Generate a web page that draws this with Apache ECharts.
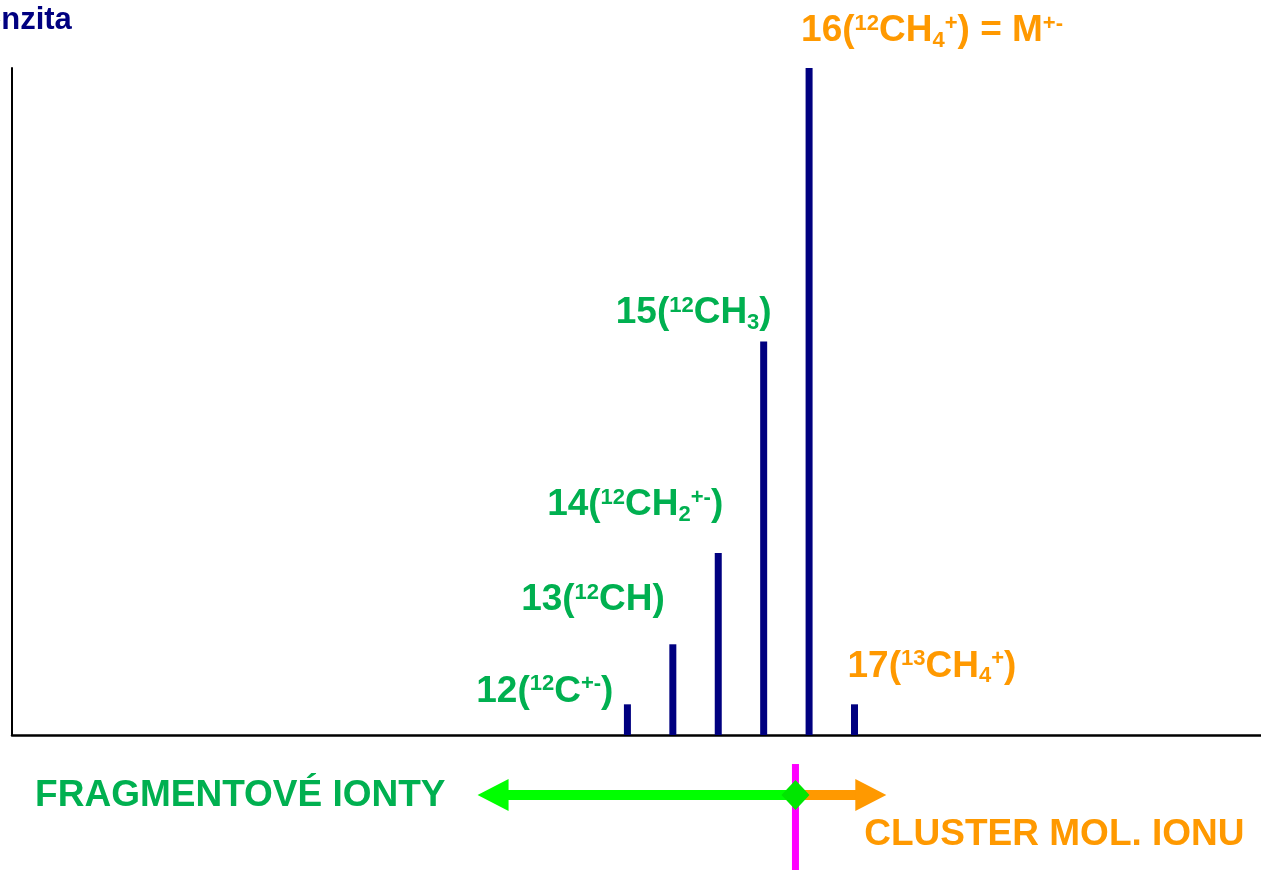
<!DOCTYPE html>
<html><head><meta charset="utf-8">
<script src="https://cdn.jsdelivr.net/npm/echarts@6/dist/echarts.min.js"></script>
<style>html,body{margin:0;padding:0;background:#fff}#c{width:1261px;height:870px}</style>
</head><body><div id="c"></div>
<script>
// ---- data ----
const mz = [12, 13, 14, 15, 16, 17];
const intensity = [4.6, 13.6, 27.3, 59, 100, 4.6];
const labelTexts = [
  '{m|12(}{p|12}{m|C}{p|+-}{m|)}',
  '{m|13(}{p|12}{m|CH)}',
  '{m|14(}{p|12}{m|CH}{b|2}{p|+-}{m|)}',
  '{m|15(}{p|12}{m|CH}{b|3}{m|)}',
  '{m|16(}{p|12}{m|CH}{b|4}{p|+}{m|) = M}{p|+-}',
  '{m|17(}{p|13}{m|CH}{b|4}{p|+}{m|)}'
];
const labelGroup = ['frag', 'frag', 'frag', 'frag', 'cluster', 'cluster'];
const fragmentRange = [8.7, 15.7];
const clusterRange = [15.7, 17.7];
const arrowLevel = -9;
const fragmentTitle = 'FRAGMENTOVÉ IONTY';
const clusterTitle = 'CLUSTER MOL. IONU';
const yName = 'Intenzita';

// ---- styles ----
const FONT = '"Liberation Sans", Arial, sans-serif';
const colors = { frag: '#00B050', cluster: '#FF9900' };
const labelLayout = [
  { align: 'right', off: [-14, 8] },
  { align: 'right', off: [-8, -23] },
  { align: 'right', off: [5, -27] },
  { align: 'right', off: [8, -8] },
  { align: 'left', off: [-8, -16] },
  { align: 'left', off: [-7, -17] }
];
function richFor(color) {
  return {
    m: { fontSize: 37, lineHeight: 42, fontWeight: 'bold', fontFamily: FONT, color: color, verticalAlign: 'middle' },
    p: { fontSize: 22, lineHeight: 22, fontWeight: 'bold', fontFamily: FONT, color: color, verticalAlign: 'top', padding: [3, 0, 0, 0] },
    b: { fontSize: 22, lineHeight: 20, fontWeight: 'bold', fontFamily: FONT, color: color, verticalAlign: 'bottom' }
  };
}

const chart = echarts.init(document.getElementById('c'), null, { renderer: 'canvas' });
const option = {
  animation: false,
  backgroundColor: '#ffffff',
  grid: { left: 12, right: 0, top: 68, bottom: 135, containLabel: false, outerBoundsMode: 'none' },
  xAxis: {
    type: 'value', min: -1.55, max: 25.95,
    axisLine: { show: true, onZero: false, lineStyle: { color: '#000', width: 2.5 } },
    axisTick: { show: false }, axisLabel: { show: false }, splitLine: { show: false }
  },
  yAxis: {
    type: 'value', min: 0, max: 100,
    name: yName, nameLocation: 'end', nameGap: 48,
    nameTextStyle: { color: '#000080', fontSize: 31, fontWeight: 'bold', fontFamily: FONT, align: 'center', verticalAlign: 'middle', padding: [0, 6, 0, 0] },
    axisLine: { show: true, onZero: false, lineStyle: { color: '#000', width: 2 } },
    axisTick: { show: false }, axisLabel: { show: false }, splitLine: { show: false }
  },
  series: [{
    type: 'bar',
    barWidth: 7,
    itemStyle: { color: '#000080' },
    data: mz.map((x, i) => ({
      value: [x, intensity[i]],
      label: {
        show: true,
        position: 'top',
        distance: 0,
        align: labelLayout[i].align,
        verticalAlign: 'bottom',
        offset: labelLayout[i].off,
        formatter: labelTexts[i],
        rich: richFor(colors[labelGroup[i]])
      }
    }))
  }]
};
chart.setOption(option);

function drawAnnotations() {
  const p = v => chart.convertToPixel({ gridIndex: 0 }, v);
  const [gx0, gy] = p([fragmentRange[0], arrowLevel]);
  const [mx] = p([fragmentRange[1], arrowLevel]);
  const [ox] = p([clusterRange[1], arrowLevel]);
  const H = chart.getHeight();
  const headLen = 31, headHalf = 16, lw = 10, dia = 15;
  const txtFont = 'bold 37px ' + FONT;
  chart.setOption({
    graphic: [
      { type: 'line', shape: { x1: mx, y1: gy - 31, x2: mx, y2: H }, style: { stroke: '#FF00FF', lineWidth: 7 }, z: 10 },
      { type: 'line', shape: { x1: gx0 + headLen - 2, y1: gy, x2: mx, y2: gy }, style: { stroke: '#00FF00', lineWidth: lw }, z: 11 },
      { type: 'polygon', shape: { points: [[gx0, gy], [gx0 + headLen, gy - headHalf], [gx0 + headLen, gy + headHalf]] }, style: { fill: '#00FF00' }, z: 11 },
      { type: 'line', shape: { x1: mx, y1: gy, x2: ox - headLen + 2, y2: gy }, style: { stroke: '#FF9900', lineWidth: lw }, z: 11 },
      { type: 'polygon', shape: { points: [[ox, gy], [ox - headLen, gy - headHalf], [ox - headLen, gy + headHalf]] }, style: { fill: '#FF9900' }, z: 11 },
      { type: 'polygon', shape: { points: [[mx - 14, gy], [mx, gy - dia], [mx + 14, gy], [mx, gy + dia]] }, style: { fill: '#00E600' }, z: 12 },
      { type: 'text', style: { text: fragmentTitle, x: gx0 - 32, y: gy + 1, font: txtFont, fill: '#00B050', align: 'right', verticalAlign: 'middle' }, z: 12 },
      { type: 'text', style: { text: clusterTitle, x: ox - 22, y: gy + 40, font: txtFont, fill: '#FF9900', align: 'left', verticalAlign: 'middle' }, z: 12 }
    ]
  });
}
drawAnnotations();
</script>
</body></html>
